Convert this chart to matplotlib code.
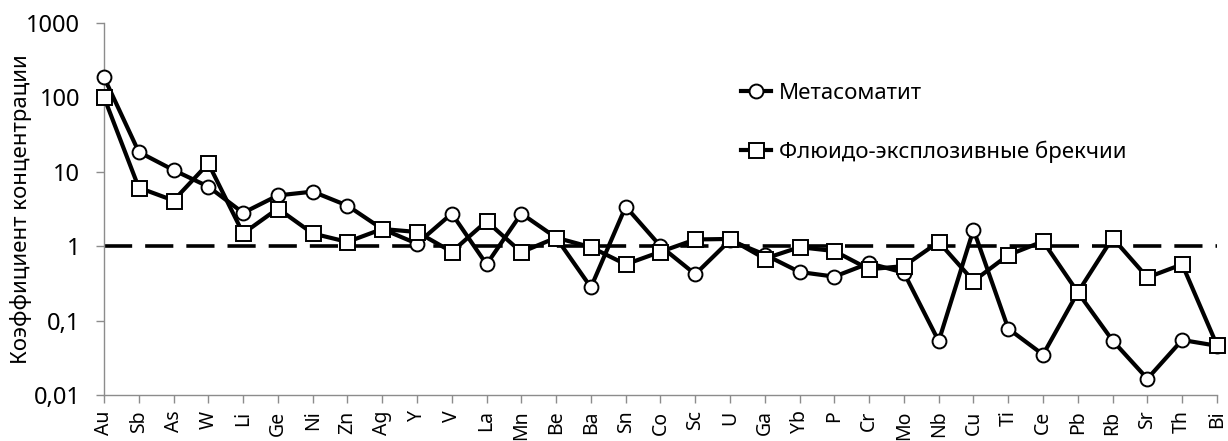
import matplotlib
matplotlib.use('Agg')
import matplotlib.pyplot as plt
from matplotlib.ticker import FixedLocator, FixedFormatter, NullLocator

plt.rcParams['font.family'] = ['Noto Sans', 'DejaVu Sans']

elements = ['Au', 'Sb', 'As', 'W', 'Li', 'Ge', 'Ni', 'Zn', 'Ag', 'Y', 'V', 'La', 'Mn',
            'Be', 'Ba', 'Sn', 'Co', 'Sc', 'U', 'Ga', 'Yb', 'P', 'Cr', 'Mo', 'Nb', 'Cu',
            'Ti', 'Ce', 'Pb', 'Rb', 'Sr', 'Th', 'Bi']
metasomatite = [185, 18.4, 10.5, 6.3, 2.8, 4.8, 5.4, 3.5, 1.7, 1.08, 2.74, 0.57, 2.74,
                1.3, 0.28, 3.4, 1.0, 0.42, 1.2, 0.77, 0.45, 0.39, 0.59, 0.44, 0.053, 1.67,
                0.078, 0.035, 0.24, 0.054, 0.0166, 0.055, 0.046]
breccia = [100, 6.1, 4.1, 12.9, 1.48, 3.2, 1.48, 1.14, 1.7, 1.55, 0.84, 2.16, 0.83,
           1.3, 0.97, 0.57, 0.84, 1.23, 1.25, 0.68, 0.97, 0.86, 0.49, 0.54, 1.14, 0.34,
           0.76, 1.16, 0.24, 1.29, 0.38, 0.57, 0.047]
baseline = 1.0

yticks = [0.01, 0.1, 1, 10, 100, 1000]
ytick_labels = ['0,01', '0,1', '1', '10', '100', '1000']

fig = plt.figure(figsize=(12.28, 4.41), dpi=100)
ax = fig.add_axes([0.0847, 0.104, 0.9063, 0.8445])

x = list(range(len(elements)))
ax.plot([x[0], x[-1]], [baseline, baseline], color='black', lw=2.6,
        dashes=(7.8, 3.6), zorder=1)
ax.plot(x, metasomatite, color='black', lw=3.0, marker='o', ms=10,
        mfc='white', mec='black', mew=1.4, clip_on=False, zorder=3,
        label='Метасоматит')
ax.plot(x, breccia, color='black', lw=3.0, marker='s', ms=10.8,
        mfc='white', mec='black', mew=1.4, clip_on=False, zorder=4,
        label='Флюидо-эксплозивные брекчии')

ax.set_yscale('log')
ax.set_ylim(0.01, 1000)
ax.set_xlim(0, len(elements) - 1)
ax.yaxis.set_major_locator(FixedLocator(yticks))
ax.yaxis.set_major_formatter(FixedFormatter(ytick_labels))
ax.yaxis.set_minor_locator(NullLocator())
ax.set_xticks(x)
ax.set_xticklabels(elements, rotation=90)

for side in ['top', 'right']:
    ax.spines[side].set_visible(False)
for side in ['left', 'bottom']:
    ax.spines[side].set_color('#8c8c8c')
    ax.spines[side].set_linewidth(1.0)
ax.tick_params(axis='both', colors='#8c8c8c', length=6, width=1.0,
               labelcolor='black')
ax.tick_params(axis='y', labelsize=17, pad=11)
ax.tick_params(axis='x', labelsize=14, pad=5)
ax.set_ylabel('Коэффициент концентрации', fontsize=16)
ax.yaxis.set_label_coords(-0.0647, 0.5)

leg = ax.legend(loc='upper left', bbox_to_anchor=(730 / 1228, 1 - 72 / 441),
                bbox_transform=fig.transFigure, frameon=False, borderpad=0,
                fontsize=16, handlelength=1.35, handletextpad=0.36,
                labelspacing=1.65)

fig.savefig('out.png', dpi=100)
